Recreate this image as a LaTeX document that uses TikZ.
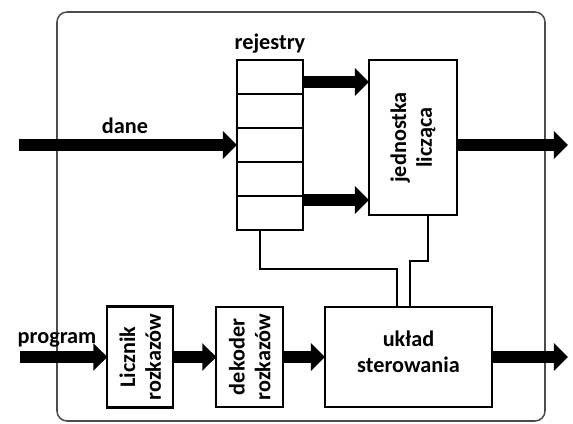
\documentclass[tikz,border=0pt]{standalone}
\usepackage{fontspec}
\setmainfont{Carlito}
\usetikzlibrary{positioning}
\usetikzlibrary{arrows.meta}

\begin{document}
\begin{tikzpicture}
[
frame-a/.style={rectangle, draw=black!70, line width=1.3pt, rounded corners=3mm},
box-a/.style={rectangle, draw, line width=1.8pt, inner sep=0pt, outer sep=0pt},
reg-a/.style={box-a, minimum width=19.8mm, minimum height=10.2mm},
text-a/.style={font=\fontsize{19}{22}\selectfont\bfseries, align=center, inner sep=0pt},
text-r/.style={text-a, rotate=90},
wire-a/.style={line width=1.1pt},
bus-a/.style={line width=10pt, -{Triangle[length=12pt, width=23pt]}}
]
\useasboundingbox (0,0) rectangle (17.19,12.69);
\node (cpu)      [frame-a, minimum width=146.4mm, minimum height=122.7mm] at (9.03,6.195) {};
% rejestry
\node (reg-1)    [reg-a] at (8.10,10.38) {};
\node (reg-2)    [reg-a, below = 0mm of reg-1] {};
\node (reg-3)    [reg-a, below = 0mm of reg-2] {};
\node (reg-4)    [reg-a, below = 0mm of reg-3] {};
\node (reg-5)    [reg-a, below = 0mm of reg-4] {};
\node (reg-lb)   [text-a, above = 2mm of reg-1] {rejestry};
% jednostka liczaca
\node (jed)      [box-a, minimum width=26.4mm, minimum height=46.5mm, below right = 0mm and 19.8mm of reg-1.north east] {};
\node (jed-lb)   [text-r] at (jed) {jednostka\\licząca};
% dolny rzad
\node (ukl)      [box-a, minimum width=50.1mm, minimum height=30mm] at (12.255,1.98) {};
\node (ukl-lb)   [text-a] at ([yshift=1.6mm]ukl) {układ\\sterowania};
\node (dek)      [box-a, minimum width=20mm, minimum height=30mm, left = 12.6mm of ukl] {};
\node (dek-lb)   [text-r] at (dek) {dekoder\\rozkazów};
\node (licz)     [box-a, minimum width=19.8mm, minimum height=30.3mm, left = 12.9mm of dek] {};
\node (licz-lb)  [text-r] at (licz) {Licznik\\rozkazów};
% wejscia i wyjscia
\coordinate (dane-in)   at (0.57,8.34);
\coordinate (dane-out)  at (17.04,8.34);
\coordinate (prog-in)   at (0.60,1.98);
\coordinate (ster-out)  at (17.04,1.98);
\coordinate (bus-1)     at ([yshift=-1.5mm]reg-1.east);
\coordinate (bus-2)     at ([yshift=3.9mm]reg-5.east);
\node (dane-lb)  [text-a] at (3.75,8.93) {dane};
\node (prog-lb)  [text-a] at (1.71,2.49) {program};
\draw [bus-a] (dane-in) -- (reg-3.west);
\draw [bus-a] (bus-1) -- (bus-1 -| jed.west);
\draw [bus-a] (bus-2) -- (bus-2 -| jed.west);
\draw [bus-a] (jed.east |- reg-3) -- (dane-out);
\draw [bus-a] (prog-in) -- (licz.west);
\draw [bus-a] (licz) -- (dek);
\draw [bus-a] (dek) -- (ukl);
\draw [bus-a] (ukl) -- (ster-out);
% sterowanie
\draw [wire-a] ([xshift=-3mm]reg-5.south) -- ++(0,-11.7mm) -| ([xshift=-3.45mm]ukl.north);
\draw [wire-a] ([xshift=4.5mm]jed.south) -- ++(0,-13.8mm) -| ([xshift=0.45mm]ukl.north);
\end{tikzpicture}
\end{document}
